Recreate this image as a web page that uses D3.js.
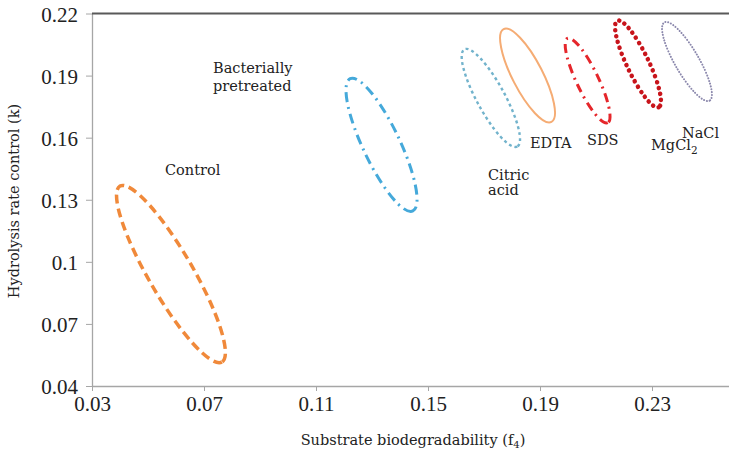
<!DOCTYPE html>
<html><head><meta charset="utf-8">
<script src="https://cdn.jsdelivr.net/npm/d3@7"></script>
<style>html,body{margin:0;padding:0;background:#fff;}svg{display:block;}</style>
</head><body>
<svg id="chart" width="729" height="455"></svg>
<script>
// ---- data ----
const groups = ["Control", "Bacterially pretreated", "Citric acid", "EDTA", "SDS", "MgCl2", "NaCl"];
// major-axis end points of each ellipse (f4, k)
const f4Top    = [0.0400, 0.1222, 0.1630, 0.1770, 0.1998, 0.2176, 0.2344];
const kTop     = [0.1366, 0.1885, 0.2027, 0.2125, 0.2080, 0.2165, 0.2157];
const f4Bottom = [0.0764, 0.1446, 0.1819, 0.1941, 0.2142, 0.2324, 0.2506];
const kBottom  = [0.0516, 0.1246, 0.1557, 0.1676, 0.1672, 0.1747, 0.1779];
// minor semi-axis, in f4 units
const spread   = [0.0079, 0.0066, 0.0050, 0.0054, 0.0039, 0.0039, 0.0043];
const xTicks = [0.03, 0.07, 0.11, 0.15, 0.19, 0.23];
const yTicks = [0.04, 0.07, 0.1, 0.13, 0.16, 0.19, 0.22];

// ---- styles ----
const colors = ["#F0893A", "#45A9DA", "#72B3CC", "#F5AC74", "#E5262B", "#C8141B", "#8C89AD"];
const widths = [3.5, 3, 2.4, 2, 3, 4.5, 2];
const dashes = ["9 5", "10 5 2 5", "3 3", null, "9 5 2 5", "0.1 6", "0.1 2.8"];
const caps   = ["butt", "butt", "butt", "butt", "butt", "round", "round"];

const svg = d3.select("#chart");
const x = d3.scaleLinear().domain([0.03, 0.26]).range([92, 736]);
const y = d3.scaleLinear().domain([0.04, 0.22]).range([386, 13.5]);

const serif = "'Liberation Serif', 'Times New Roman', serif";
const slab = "'DejaVu Serif', serif";
const lblSize = 14.5;

// axes
const xAxis = svg.append("g").attr("transform", "translate(0,386)")
  .call(d3.axisBottom(x).tickValues(xTicks).tickSize(5).tickSizeOuter(0).tickFormat(d3.format("")));
xAxis.select(".domain").attr("stroke", "#a6a6a6").attr("stroke-width", 1.3);
xAxis.selectAll(".tick line").attr("stroke", "#a6a6a6");
xAxis.selectAll(".tick text").attr("font-family", serif).attr("font-size", 21).attr("fill", "#222").attr("dy", "0.95em").attr("y", 5);

const yAxis = svg.append("g").attr("transform", "translate(92,0)")
  .call(d3.axisLeft(y).tickValues(yTicks).tickSize(6).tickSizeOuter(0).tickFormat(d3.format("")));
yAxis.select(".domain").attr("stroke", "#a6a6a6").attr("stroke-width", 1.3);
yAxis.selectAll(".tick line").attr("stroke", "#a6a6a6");
yAxis.selectAll(".tick text").attr("font-family", serif).attr("font-size", 21).attr("fill", "#222").attr("x", -14).attr("dy", "0.36em");

// top frame line
svg.append("line").attr("x1", 92).attr("x2", 729).attr("y1", y(0.22)).attr("y2", y(0.22))
  .attr("stroke", "#595959").attr("stroke-width", 2);

// ellipses
groups.forEach((g, i) => {
  const x1 = x(f4Top[i]), y1 = y(kTop[i]), x2 = x(f4Bottom[i]), y2 = y(kBottom[i]);
  const cx = (x1 + x2) / 2, cy = (y1 + y2) / 2;
  const a = Math.hypot(x2 - x1, y2 - y1) / 2;
  const b = x(0.03 + spread[i]) - x(0.03);
  const ang = Math.atan2(y2 - y1, x2 - x1) * 180 / Math.PI;
  const e = svg.append("ellipse")
    .attr("transform", `translate(${cx},${cy}) rotate(${ang})`)
    .attr("rx", a).attr("ry", b)
    .attr("fill", "none").attr("stroke", colors[i]).attr("stroke-width", widths[i])
    .attr("stroke-linecap", caps[i]);
  if (dashes[i]) e.attr("stroke-dasharray", dashes[i]);
});

// labels
function label(lines, px, py, lh) {
  const t = svg.append("text").attr("font-family", slab).attr("font-size", lblSize).attr("fill", "#222");
  lines.forEach((l, j) => t.append("tspan").attr("x", px).attr("y", py + j * lh).text(l));
  return t;
}
label(["Control"], 165, 175, 0);
label(["Bacterially", "pretreated"], 213, 73, 18);
label(["Citric", "acid"], 488, 180, 14.5);
label(["EDTA"], 530, 148, 0);
label(["SDS"], 587, 145, 0);
label(["NaCl"], 682, 138, 0);
const mg = svg.append("text").attr("font-family", slab).attr("font-size", lblSize).attr("fill", "#222")
  .attr("x", 651).attr("y", 150);
mg.append("tspan").text("MgCl");
mg.append("tspan").attr("font-size", 10.5).attr("dy", 4).text("2");

// axis titles
const xt = svg.append("text").attr("font-family", slab).attr("font-size", 14.5).attr("fill", "#222")
  .attr("x", 413).attr("y", 445).attr("text-anchor", "middle");
xt.append("tspan").text("Substrate biodegradability (f");
xt.append("tspan").attr("font-size", 10).attr("dy", 3).text("4");
xt.append("tspan").attr("dy", -3).text(")");

svg.append("text").attr("font-family", slab).attr("font-size", 14.5).attr("fill", "#222")
  .attr("transform", "translate(19,201) rotate(-90)").attr("text-anchor", "middle")
  .text("Hydrolysis rate control (k)");
</script>
</body></html>
